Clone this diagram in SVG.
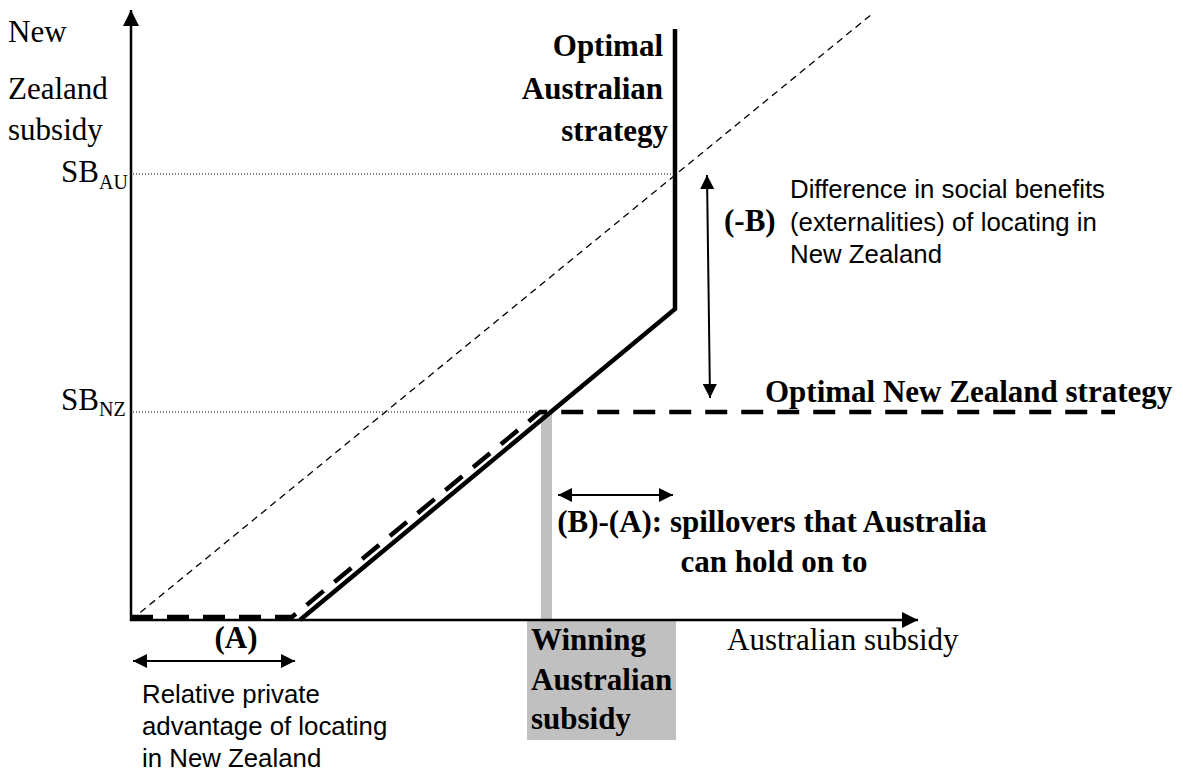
<svg xmlns="http://www.w3.org/2000/svg" width="1183" height="774" viewBox="0 0 1183 774">
<style>
.serif{font-family:"Liberation Serif","Times New Roman",serif;font-size:31px;fill:#000}
.sub{font-family:"Liberation Serif","Times New Roman",serif;font-size:20px;fill:#000}
.b{font-weight:bold}
.sans{font-family:"Liberation Sans",Arial,sans-serif;font-size:25.8px;fill:#000}
.ax{stroke:#000;stroke-width:2.5;fill:none}
.dot{stroke:#000;stroke-width:1;stroke-dasharray:1 2;fill:none}
.thin{stroke:#000;stroke-width:1.3;stroke-dasharray:7 5;fill:none}
.au{stroke:#000;stroke-width:4.5;fill:none;stroke-linejoin:miter}
.nz{stroke:#000;stroke-width:4.5;fill:none;stroke-dasharray:22 14}
.arr{stroke:#000;stroke-width:2;fill:none}
</style>
<defs>
<marker id="big" viewBox="0 0 16 16" refX="16" refY="8" markerWidth="16" markerHeight="16" markerUnits="userSpaceOnUse" orient="auto-start-reverse"><path d="M0,0 L16,8 L0,16 z" fill="#000"/></marker>
<marker id="sm" viewBox="0 0 14 14" refX="14" refY="7" markerWidth="14" markerHeight="14" markerUnits="userSpaceOnUse" orient="auto-start-reverse"><path d="M0,0 L14,7 L0,14 z" fill="#000"/></marker>
</defs>
<g id="guides">
<path class="dot" d="M133,174 L675,174"/>
<path class="dot" d="M133,412 L540,412"/>
<path class="thin" d="M131,620 L872,14"/>
</g>
<g id="winning-bar">
<rect x="541" y="413" width="11" height="207" fill="#c0c0c0"/>
<rect x="527" y="621" width="149" height="119" fill="#c0c0c0"/>
<text class="serif b" x="531" y="650">Winning</text>
<text class="serif b" x="531" y="690">Australian</text>
<text class="serif b" x="531" y="729">subsidy</text>
</g>
<g id="axes">
<path class="ax" d="M131,621 L131,10" marker-end="url(#big)"/>
<path class="ax" d="M130,620 L918,620" marker-end="url(#big)"/>
</g>
<g id="au-strategy">
<path class="au" d="M300,620 L675,309 L675,29"/>
<text class="serif b" text-anchor="end" x="663" y="56">Optimal</text>
<text class="serif b" text-anchor="end" x="663" y="99">Australian</text>
<text class="serif b" text-anchor="end" x="668" y="141">strategy</text>
</g>
<g id="nz-strategy">
<path class="nz" d="M131,617 L292,617 L540,412 L1115,412"/>
<text class="serif b" x="765" y="402">Optimal New Zealand strategy</text>
</g>
<g id="labels">
<text class="serif" x="8" y="42">New</text>
<text class="serif" x="8" y="99">Zealand</text>
<text class="serif" x="8" y="140">subsidy</text>
<text class="serif" text-anchor="end" x="99" y="182">SB</text>
<text class="sub" x="99" y="189">AU</text>
<text class="serif" text-anchor="end" x="99" y="410">SB</text>
<text class="sub" x="99" y="416">NZ</text>
<text class="serif" x="727" y="650">Australian subsidy</text>
</g>
<g id="connectors">
<path class="arr" d="M707,175 L710,398" marker-start="url(#sm)" marker-end="url(#sm)"/>
<path class="arr" d="M558,495 L673,495" marker-start="url(#sm)" marker-end="url(#sm)"/>
<path class="arr" d="M133,661 L295,661" marker-start="url(#sm)" marker-end="url(#sm)"/>
</g>
<g id="annotations">
<text class="serif b" x="724" y="231">(-B)</text>
<text class="sans" x="790" y="198">Difference in social benefits</text>
<text class="sans" x="790" y="231">(externalities) of locating in</text>
<text class="sans" x="790" y="263">New Zealand</text>
<text class="serif b" text-anchor="middle" x="772" y="532">(B)-(A): spillovers that Australia</text>
<text class="serif b" text-anchor="middle" x="774" y="572">can hold on to</text>
<text class="serif b" text-anchor="middle" x="236" y="648">(A)</text>
<text class="sans" x="142" y="703">Relative private</text>
<text class="sans" x="142" y="735">advantage of locating</text>
<text class="sans" x="142" y="767">in New Zealand</text>
</g>
</svg>
